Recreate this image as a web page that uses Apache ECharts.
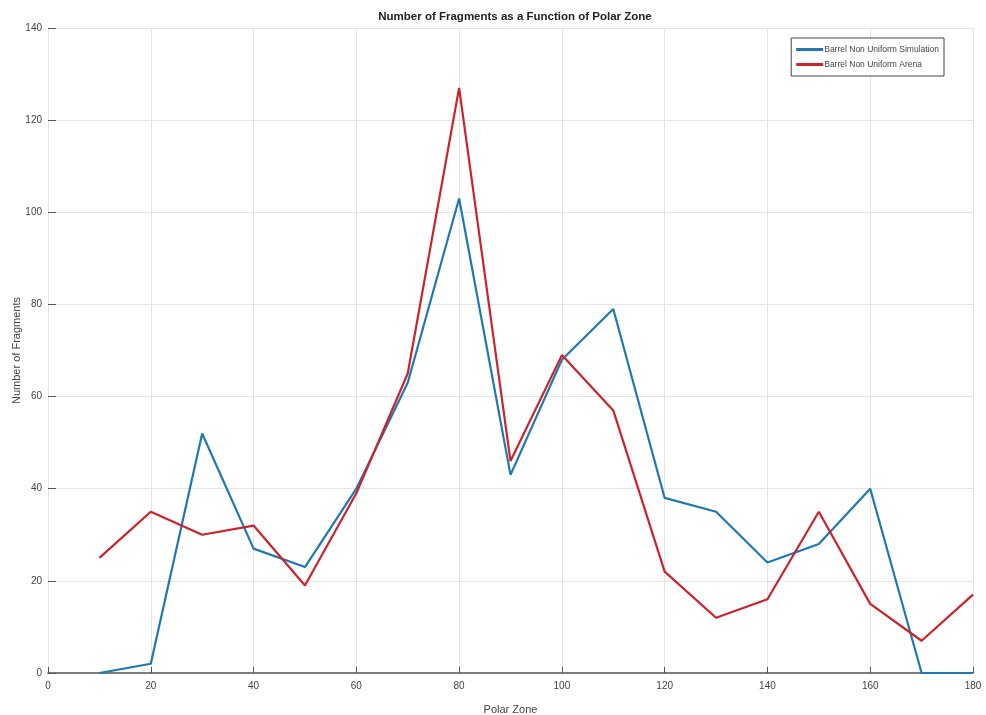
<!DOCTYPE html>
<html><head><meta charset="utf-8">
<script src="https://cdn.jsdelivr.net/npm/echarts@6/dist/echarts.min.js"></script>
<style>html,body{margin:0;padding:0;background:#fff}#c{width:986px;height:715px}</style>
</head><body><div id="c"></div>
<script>
const zones = [10,20,30,40,50,60,70,80,90,100,110,120,130,140,150,160,170,180];
const simulation = [0,2,52,27,23,40,63,103,43,68,79,38,35,24,28,40,0,0];
const arena = [25,35,30,32,19,39,65,127,46,69,57,22,12,16,35,15,7,17];
const xTicks = [0,20,40,60,80,100,120,140,160,180];
const yTicks = [0,20,40,60,80,100,120,140];

const chart = echarts.init(document.getElementById('c'));
const font = '"Liberation Sans", Arial, sans-serif';
chart.setOption({
  animation:false,
  title:{text:'Number of Fragments as a Function of Polar Zone',left:510,top:6,textAlign:'center',
    textStyle:{fontSize:11.5,fontWeight:'bold',color:'#222',fontFamily:font}},
  legend:{right:42,top:38,orient:'vertical',itemWidth:27,itemHeight:3,itemGap:6,
    icon:'rect',backgroundColor:'#fff',borderColor:'#444',borderWidth:1,padding:[7,5,7,5],
    textStyle:{fontSize:8.5,color:'#444',fontFamily:font,padding:[0,0,0,-4]},
    data:['Barrel Non Uniform Simulation','Barrel Non Uniform Arena']},
  grid:{left:48,right:13,top:28,bottom:42,containLabel:false,outerBoundsMode:'none'},
  xAxis:{type:'value',min:0,max:180,interval:20,name:'Polar Zone',nameLocation:'middle',nameGap:31,
    nameMoveOverlap:false,
    nameTextStyle:{fontSize:11,color:'#444',fontFamily:font},
    axisLine:{show:true,lineStyle:{color:'#555',width:1.5}},
    axisTick:{show:true,inside:true,length:6,lineStyle:{color:'#555'}},
    axisLabel:{fontSize:10,color:'#444',fontFamily:font,margin:8,
      formatter:v=>xTicks.includes(v)?String(v):''},
    splitLine:{show:true,lineStyle:{color:'#e4e4e4',width:1}}},
  yAxis:{type:'value',min:0,max:140,interval:20,name:'Number of Fragments',nameLocation:'middle',nameGap:26,
    nameMoveOverlap:false,
    nameTextStyle:{fontSize:11,color:'#444',fontFamily:font},
    axisLine:{show:false},
    axisTick:{show:true,inside:true,length:8,lineStyle:{color:'#555'}},
    axisLabel:{fontSize:10,color:'#444',fontFamily:font,margin:6,
      formatter:v=>yTicks.includes(v)?String(v):''},
    splitLine:{show:true,lineStyle:{color:'#e4e4e4',width:1}}},
  series:[
    {name:'Barrel Non Uniform Simulation',type:'line',data:zones.map((z,i)=>[z,simulation[i]]),
      showSymbol:false,lineStyle:{color:'#1f78b0',width:2.2},itemStyle:{color:'#1f78b0'}},
    {name:'Barrel Non Uniform Arena',type:'line',data:zones.map((z,i)=>[z,arena[i]]),
      showSymbol:false,lineStyle:{color:'#cc2229',width:2.2},itemStyle:{color:'#cc2229'}}
  ]
});
</script></body></html>
